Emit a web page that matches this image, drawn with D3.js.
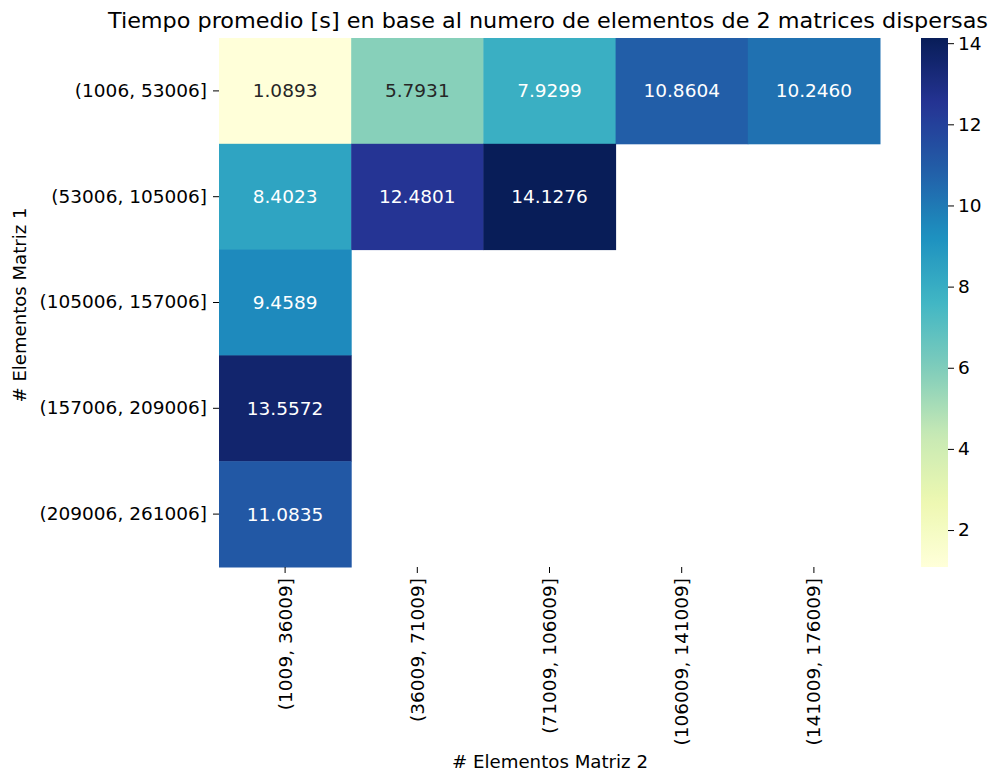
<!DOCTYPE html>
<html>
<head>
<meta charset="utf-8">
<script src="https://cdn.jsdelivr.net/npm/d3@7"></script>
<style>
  html, body { margin: 0; padding: 0; background: #ffffff; }
  svg text { font-family: "DejaVu Sans", sans-serif; fill: #000; }
</style>
</head>
<body>
<svg id="chart" width="997" height="774"></svg>
<script>
// Row and column bins (number of non-zero elements of each sparse matrix)
const rowLabels = ["(1006, 53006]", "(53006, 105006]", "(105006, 157006]", "(157006, 209006]", "(209006, 261006]"];
const colLabels = ["(1009, 36009]", "(36009, 71009]", "(71009, 106009]", "(106009, 141009]", "(141009, 176009]"];

// Average time [s] per row; null = no measurement for that combination
const row0 = [1.0893, 5.7931, 7.9299, 10.8604, 10.2460];
const row1 = [8.4023, 12.4801, 14.1276, null, null];
const row2 = [9.4589, null, null, null, null];
const row3 = [13.5572, null, null, null, null];
const row4 = [11.0835, null, null, null, null];
const rows = [row0, row1, row2, row3, row4];

const colorbarTicks = [2, 4, 6, 8, 10, 12, 14];

const titleText = "Tiempo promedio [s] en base al numero de elementos de 2 matrices dispersas";
const xTitle = "# Elementos Matriz 2";
const yTitle = "# Elementos Matriz 1";

// YlGnBu colour ramp (ColorBrewer 9-class), linearly interpolated
const ylgnbu = ["#ffffd9", "#edf8b1", "#c7e9b4", "#7fcdbb", "#41b6c4", "#1d91c0", "#225ea8", "#253494", "#081d58"];

const FS = "18.5px";
const svg = d3.select("#chart");

const plot = { left: 219, right: 880, top: 38, bottom: 567 };

const cells = [];
rows.forEach((r, i) => r.forEach((v, j) => {
  if (v !== null) cells.push({ row: rowLabels[i], col: colLabels[j], value: v });
}));

const allVals = cells.map(d => d.value);
const vmin = d3.min(allVals), vmax = d3.max(allVals);

const color = d3.scaleLinear()
  .domain(ylgnbu.map((_, k) => vmin + (vmax - vmin) * k / (ylgnbu.length - 1)))
  .range(ylgnbu)
  .interpolate(d3.interpolateRgb);

const x = d3.scaleBand().domain(colLabels).range([plot.left, plot.right]);
const y = d3.scaleBand().domain(rowLabels).range([plot.top, plot.bottom]);

// Cells
svg.append("g").selectAll("rect")
  .data(cells)
  .join("rect")
  .attr("x", d => x(d.col))
  .attr("y", d => y(d.row))
  .attr("width", x.bandwidth() + 0.5)
  .attr("height", y.bandwidth() + 0.5)
  .attr("fill", d => color(d.value));

// Annotations: dark text on light cells, white on dark ones
function luminance(c) {
  const rgb = d3.rgb(c);
  const f = v => { v /= 255; return v <= 0.03928 ? v / 12.92 : Math.pow((v + 0.055) / 1.055, 2.4); };
  return 0.2126 * f(rgb.r) + 0.7152 * f(rgb.g) + 0.0722 * f(rgb.b);
}
svg.append("g").selectAll("text")
  .data(cells)
  .join("text")
  .attr("x", d => x(d.col) + x.bandwidth() / 2)
  .attr("y", d => y(d.row) + y.bandwidth() / 2)
  .attr("text-anchor", "middle")
  .attr("dominant-baseline", "central")
  .style("font-size", FS)
  .style("fill", d => luminance(color(d.value)) > 0.408 ? "#262626" : "#ffffff")
  .text(d => d.value.toFixed(4));

// Left axis
const yAxis = svg.append("g")
  .attr("transform", `translate(${plot.left},0)`)
  .call(d3.axisLeft(y).tickSize(6).tickPadding(6));
yAxis.select(".domain").remove();
yAxis.selectAll("line").attr("stroke", "#000").attr("stroke-width", 1);
yAxis.selectAll("text").style("font-size", FS).style("font-family", "DejaVu Sans, sans-serif");

// Bottom axis with vertical labels
const xAxis = svg.append("g")
  .attr("transform", `translate(0,${plot.bottom})`)
  .call(d3.axisBottom(x).tickSize(6).tickPadding(5));
xAxis.select(".domain").remove();
xAxis.selectAll("line").attr("stroke", "#000").attr("stroke-width", 1);
xAxis.selectAll("text")
  .style("font-size", FS)
  .style("font-family", "DejaVu Sans, sans-serif")
  .attr("text-anchor", "end")
  .attr("dy", null)
  .attr("dominant-baseline", "central")
  .attr("transform", "translate(0,11) rotate(-90)")
  .attr("x", 0)
  .attr("y", 0);

// Title and axis titles
svg.append("text")
  .attr("x", 548).attr("y", 28)
  .attr("text-anchor", "middle")
  .style("font-size", "20.5px")
  .attr("textLength", 880)
  .attr("lengthAdjust", "spacingAndGlyphs")
  .text(titleText);

svg.append("text")
  .attr("x", 550).attr("y", 768)
  .attr("text-anchor", "middle")
  .style("font-size", "18.5px")
  .attr("textLength", 196)
  .attr("lengthAdjust", "spacingAndGlyphs")
  .text(xTitle);

svg.append("text")
  .attr("transform", `translate(26,305) rotate(-90)`)
  .attr("text-anchor", "middle")
  .style("font-size", "18.5px")
  .attr("textLength", 195)
  .attr("lengthAdjust", "spacingAndGlyphs")
  .text(yTitle);

// Colorbar
const cb = { x: 921, w: 27, top: plot.top, bottom: plot.bottom };
const defs = svg.append("defs");
const grad = defs.append("linearGradient")
  .attr("id", "cbgrad")
  .attr("x1", 0).attr("y1", 1).attr("x2", 0).attr("y2", 0);
d3.range(0, 1.0001, 0.02).forEach(t => {
  grad.append("stop")
    .attr("offset", t)
    .attr("stop-color", color(vmin + t * (vmax - vmin)));
});
svg.append("rect")
  .attr("x", cb.x).attr("y", cb.top)
  .attr("width", cb.w).attr("height", cb.bottom - cb.top)
  .attr("fill", "url(#cbgrad)");

const cbScale = d3.scaleLinear().domain([vmin, vmax]).range([cb.bottom, cb.top]);
const cbAxis = svg.append("g")
  .attr("transform", `translate(${cb.x + cb.w},0)`)
  .call(d3.axisRight(cbScale).tickValues(colorbarTicks).tickSize(6).tickPadding(4).tickFormat(d3.format("d")));
cbAxis.select(".domain").remove();
cbAxis.selectAll("line").attr("stroke", "#000");
cbAxis.selectAll("text").style("font-size", FS).style("font-family", "DejaVu Sans, sans-serif");
</script>
</body>
</html>
